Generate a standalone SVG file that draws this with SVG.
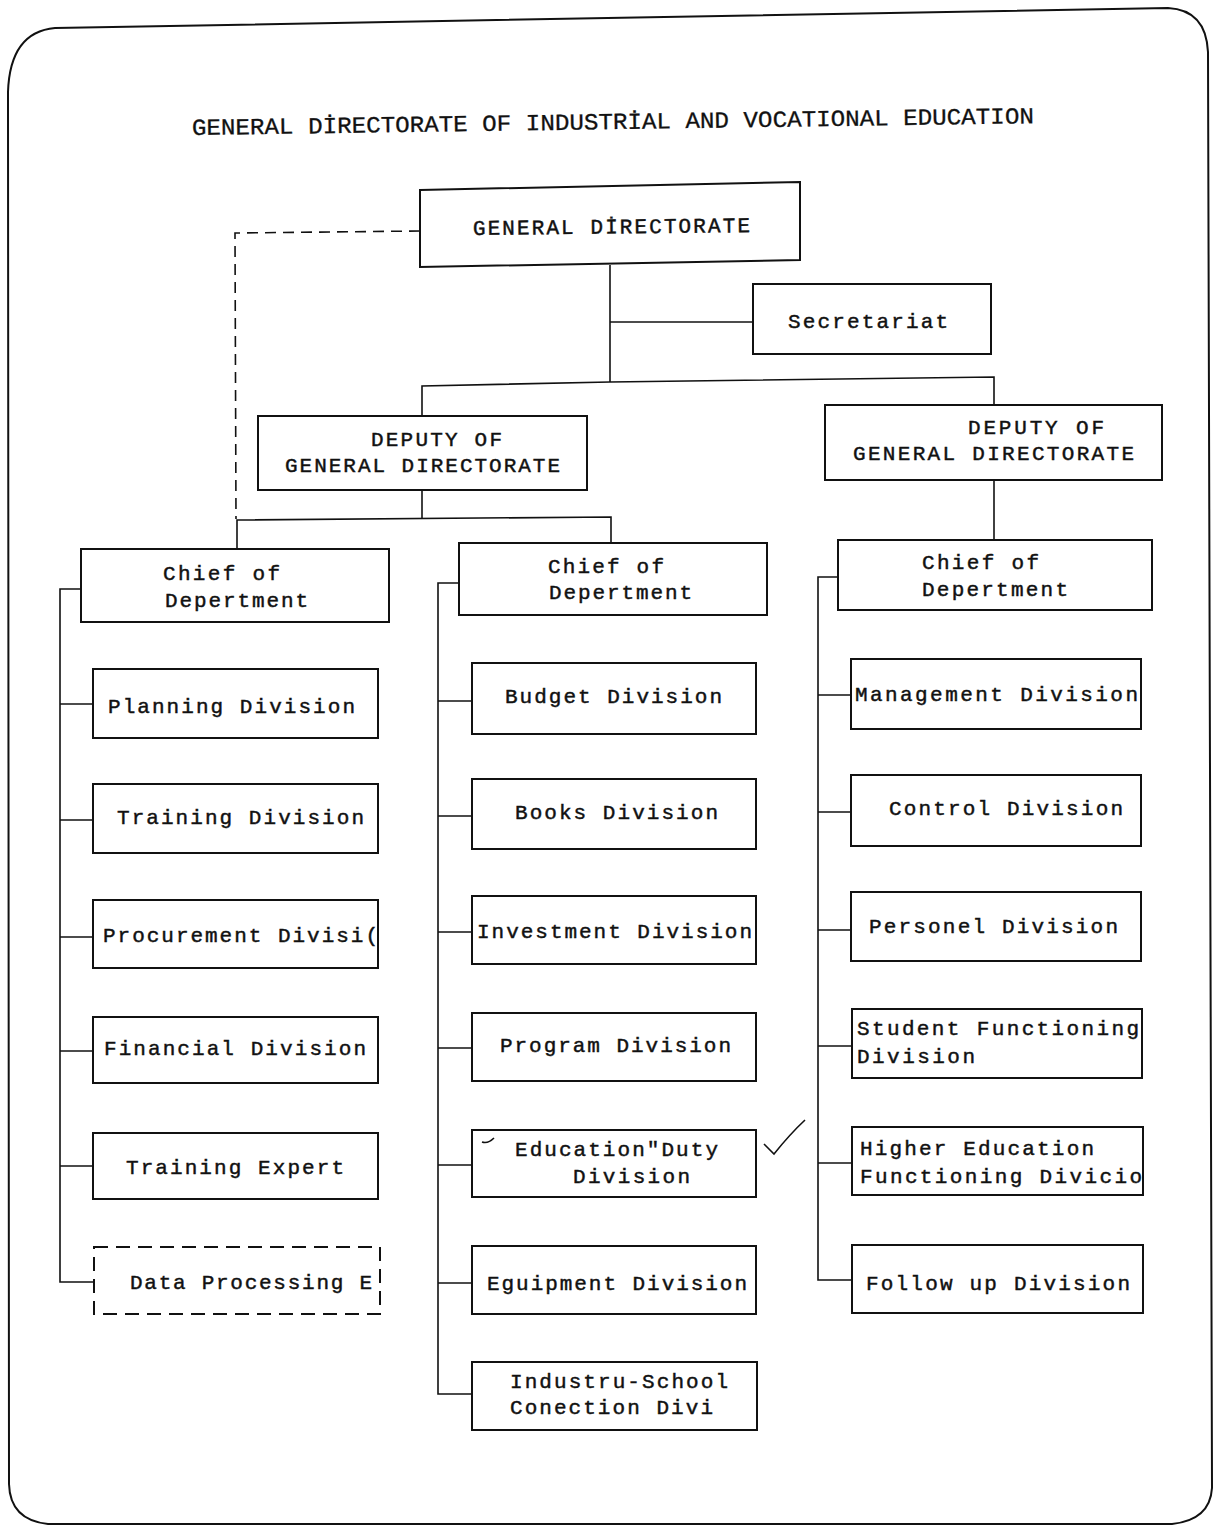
<svg xmlns="http://www.w3.org/2000/svg" width="1216" height="1526" viewBox="0 0 1216 1526">
  <style>
    .box { fill: none; stroke: #111; stroke-width: 2; }
    .dbox { fill: none; stroke: #111; stroke-width: 2; stroke-dasharray: 14 8; }
    .ln { fill: none; stroke: #111; stroke-width: 1.6; }
    .dash { fill: none; stroke: #111; stroke-width: 1.6; stroke-dasharray: 11 7; }
    .t { font-family: "Liberation Mono", "Courier New", monospace; font-size: 21px; fill: #111; stroke: #111; stroke-width: 0.45; }
    .title { font-family: "Liberation Mono", "Courier New", monospace; font-size: 23px; fill: #111; stroke: #111; stroke-width: 0.3; }
  </style>
  <rect width="1216" height="1526" fill="#fff"/>

  <!-- page frame -->
  <path class="box" stroke-width="2.4" d="M 55 28 L 1168 8 Q 1206 10 1208 52 L 1212 1488 Q 1210 1520 1172 1524 L 48 1524 Q 10 1520 9 1484 L 8 92 Q 10 32 55 28 Z"/>

  <!-- heading -->
  <text class="title" x="192" y="135" textLength="842" lengthAdjust="spacingAndGlyphs" transform="rotate(-0.8 192 135)">GENERAL DİRECTORATE OF INDUSTRİAL AND VOCATIONAL EDUCATION</text>

  <!-- connectors -->
  <g id="connectors">
    <!-- top level -->
    <path class="ln" d="M 610 265 L 610 382"/>
    <path class="ln" d="M 610 322 L 753 322"/>
    <path class="ln" d="M 422 417 L 422 386 L 610 382 L 994 377 L 994 405"/>
    <!-- advisory dashed link -->
    <path class="dash" d="M 420 231 L 235 233 L 236 519"/>
    <!-- left deputy to chiefs -->
    <path class="ln" d="M 422 490 L 422 519"/>
    <path class="ln" d="M 237 549 L 237 520 L 611 517 L 611 543"/>
    <!-- right deputy to chief -->
    <path class="ln" d="M 994 480 L 994 541"/>
    <!-- left bus -->
    <path class="ln" d="M 81 589 L 60 589 L 60 1282 L 94 1282"/>
    <path class="ln" d="M 60 704 L 93 704"/>
    <path class="ln" d="M 60 820 L 93 820"/>
    <path class="ln" d="M 60 937 L 93 937"/>
    <path class="ln" d="M 60 1051 L 93 1051"/>
    <path class="ln" d="M 60 1166 L 93 1166"/>
    <!-- middle bus -->
    <path class="ln" d="M 459 583 L 438 583 L 438 1394 L 472 1394"/>
    <path class="ln" d="M 438 701 L 472 701"/>
    <path class="ln" d="M 438 816 L 472 816"/>
    <path class="ln" d="M 438 932 L 472 932"/>
    <path class="ln" d="M 438 1048 L 472 1048"/>
    <path class="ln" d="M 438 1165 L 472 1165"/>
    <path class="ln" d="M 438 1283 L 472 1283"/>
    <!-- right bus -->
    <path class="ln" d="M 838 577 L 818 577 L 818 1280 L 852 1280"/>
    <path class="ln" d="M 818 695 L 851 695"/>
    <path class="ln" d="M 818 812 L 851 812"/>
    <path class="ln" d="M 818 930 L 851 930"/>
    <path class="ln" d="M 818 1046 L 851 1046"/>
    <path class="ln" d="M 818 1163 L 851 1163"/>
  </g>

  <!-- top -->
  <g id="general-directorate">
    <path class="box" d="M 420 190 L 800 182 L 800 260 L 420 267 Z"/>
    <text class="t" x="473" y="235" textLength="277" lengthAdjust="spacing" transform="rotate(-0.6 473 235)">GENERAL DİRECTORATE</text>
  </g>
  <g id="secretariat">
    <rect class="box" x="753" y="284" width="238" height="70"/>
    <text class="t" x="788" y="328" textLength="160" lengthAdjust="spacing">Secretariat</text>
  </g>
  <g id="deputy-left">
    <rect class="box" x="258" y="416" width="329" height="74"/>
    <text class="t" x="371" y="446" textLength="131" lengthAdjust="spacing">DEPUTY OF</text>
    <text class="t" x="285" y="472" textLength="275" lengthAdjust="spacing">GENERAL DIRECTORATE</text>
  </g>
  <g id="deputy-right">
    <rect class="box" x="825" y="405" width="337" height="75"/>
    <text class="t" x="968" y="434" textLength="136" lengthAdjust="spacing">DEPUTY OF</text>
    <text class="t" x="853" y="460" textLength="281" lengthAdjust="spacing">GENERAL DIRECTORATE</text>
  </g>

  <!-- chiefs -->
  <g id="chief-left">
    <rect class="box" x="81" y="549" width="308" height="73"/>
    <text class="t" x="163" y="580" textLength="117" lengthAdjust="spacing">Chief of</text>
    <text class="t" x="165" y="607" textLength="143" lengthAdjust="spacing">Depertment</text>
  </g>
  <g id="chief-middle">
    <rect class="box" x="459" y="543" width="308" height="72"/>
    <text class="t" x="548" y="573" textLength="116" lengthAdjust="spacing">Chief of</text>
    <text class="t" x="549" y="599" textLength="143" lengthAdjust="spacing">Depertment</text>
  </g>
  <g id="chief-right">
    <rect class="box" x="838" y="540" width="314" height="70"/>
    <text class="t" x="922" y="569" textLength="117" lengthAdjust="spacing">Chief of</text>
    <text class="t" x="922" y="596" textLength="146" lengthAdjust="spacing">Depertment</text>
  </g>

  <!-- left column -->
  <g id="planning">
    <rect class="box" x="93" y="669" width="285" height="69"/>
    <text class="t" x="108" y="713" textLength="247" lengthAdjust="spacing">Planning Division</text>
  </g>
  <g id="training">
    <rect class="box" x="93" y="784" width="285" height="69"/>
    <text class="t" x="117" y="824" textLength="247" lengthAdjust="spacing">Training Division</text>
  </g>
  <g id="procurement">
    <rect class="box" x="93" y="900" width="285" height="68"/>
    <text class="t" x="103" y="942" textLength="275" lengthAdjust="spacing">Procurement Divisi(</text>
  </g>
  <g id="financial">
    <rect class="box" x="93" y="1017" width="285" height="66"/>
    <text class="t" x="104" y="1055" textLength="262" lengthAdjust="spacing">Financial Division</text>
  </g>
  <g id="training-expert">
    <rect class="box" x="93" y="1133" width="285" height="66"/>
    <text class="t" x="126" y="1174" textLength="218" lengthAdjust="spacing">Training Expert</text>
  </g>
  <g id="data-processing">
    <rect class="dbox" x="94" y="1247" width="286" height="67"/>
    <text class="t" x="130" y="1289" textLength="242" lengthAdjust="spacing">Data Processing E</text>
  </g>

  <!-- middle column -->
  <g id="budget">
    <rect class="box" x="472" y="663" width="284" height="71"/>
    <text class="t" x="505" y="703" textLength="217" lengthAdjust="spacing">Budget Division</text>
  </g>
  <g id="books">
    <rect class="box" x="472" y="779" width="284" height="70"/>
    <text class="t" x="515" y="819" textLength="203" lengthAdjust="spacing">Books Division</text>
  </g>
  <g id="investment">
    <rect class="box" x="472" y="896" width="284" height="68"/>
    <text class="t" x="477" y="938" textLength="275" lengthAdjust="spacing">Investment Division</text>
  </g>
  <g id="program">
    <rect class="box" x="472" y="1013" width="284" height="68"/>
    <text class="t" x="500" y="1052" textLength="231" lengthAdjust="spacing">Program Division</text>
  </g>
  <g id="education-duty">
    <rect class="box" x="472" y="1130" width="284" height="67"/>
    <text class="t" x="515" y="1156" textLength="203" lengthAdjust="spacing">Education"Duty</text>
    <text class="t" x="573" y="1183" textLength="117" lengthAdjust="spacing">Division</text>
    <path class="ln" d="M 482 1142 Q 488 1144 494 1138"/>
    <path class="ln" d="M 764 1144 Q 770 1150 774 1154 Q 790 1134 805 1120"/>
  </g>
  <g id="equipment">
    <rect class="box" x="472" y="1246" width="284" height="68"/>
    <text class="t" x="487" y="1290" textLength="260" lengthAdjust="spacing">Eguipment Division</text>
  </g>
  <g id="industry-school">
    <rect class="box" x="472" y="1362" width="285" height="68"/>
    <text class="t" x="510" y="1388" textLength="218" lengthAdjust="spacing">Industru-School</text>
    <text class="t" x="510" y="1414" textLength="203" lengthAdjust="spacing">Conection Divi</text>
  </g>

  <!-- right column -->
  <g id="management">
    <rect class="box" x="851" y="659" width="290" height="70"/>
    <text class="t" x="855" y="701" textLength="283" lengthAdjust="spacing">Management Division</text>
  </g>
  <g id="control">
    <rect class="box" x="851" y="775" width="290" height="71"/>
    <text class="t" x="889" y="815" textLength="234" lengthAdjust="spacing">Control Division</text>
  </g>
  <g id="personel">
    <rect class="box" x="851" y="892" width="290" height="69"/>
    <text class="t" x="869" y="933" textLength="249" lengthAdjust="spacing">Personel Division</text>
  </g>
  <g id="student-functioning">
    <rect class="box" x="852" y="1009" width="290" height="69"/>
    <text class="t" x="857" y="1035" textLength="282" lengthAdjust="spacing">Student Functioning</text>
    <text class="t" x="857" y="1063" textLength="118" lengthAdjust="spacing">Division</text>
  </g>
  <g id="higher-education">
    <rect class="box" x="852" y="1127" width="291" height="68"/>
    <text class="t" x="860" y="1155" textLength="234" lengthAdjust="spacing">Higher Education</text>
    <text class="t" x="860" y="1183" textLength="282" lengthAdjust="spacing">Functioning Divicio</text>
  </g>
  <g id="follow-up">
    <rect class="box" x="852" y="1245" width="291" height="68"/>
    <text class="t" x="866" y="1290" textLength="264" lengthAdjust="spacing">Follow up Division</text>
  </g>
</svg>
